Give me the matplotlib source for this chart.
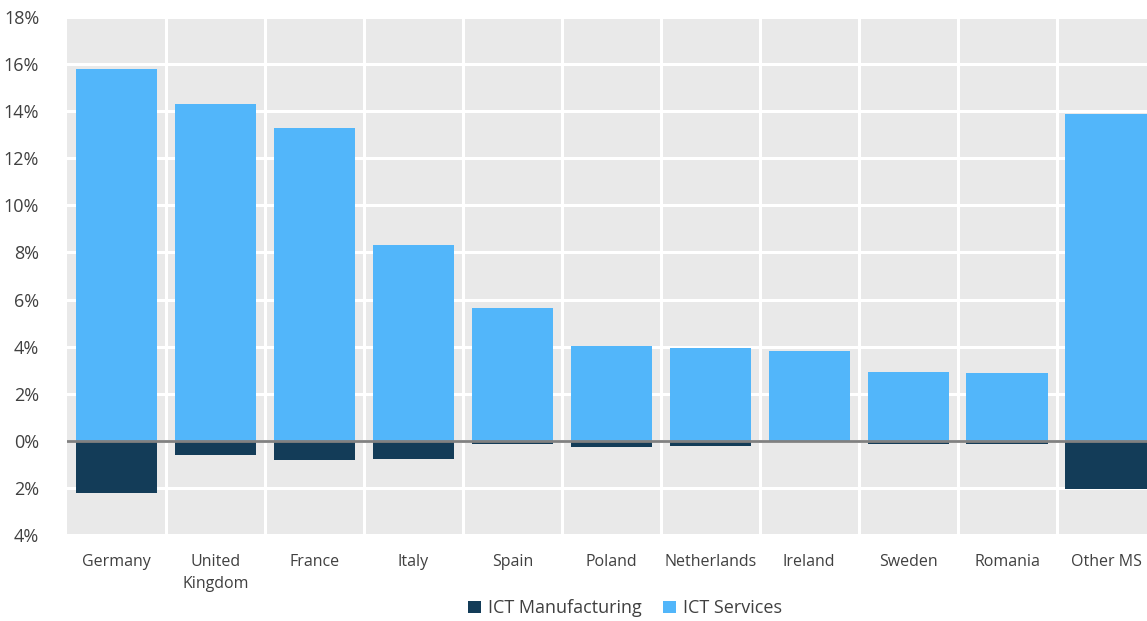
import numpy as np
import matplotlib
matplotlib.use("Agg")
import matplotlib.pyplot as plt
from matplotlib.ticker import FuncFormatter

plt.rcParams['font.family'] = ['Open Sans', 'DejaVu Sans']

# data
countries = ['Germany', 'United\nKingdom', 'France', 'Italy', 'Spain', 'Poland',
             'Netherlands', 'Ireland', 'Sweden', 'Romania', 'Other MS']
ict_services = [15.8, 14.3, 13.3, 8.3, 5.65, 4.03, 3.95, 3.82, 2.93, 2.89, 13.9]
ict_manufacturing = [-2.2, -0.6, -0.8, -0.78, -0.12, -0.25, -0.2, -0.02, -0.15, -0.15, -2.05]

c_serv = '#52B6FA'
c_manu = '#133C58'
txt = '#404040'

fig = plt.figure(figsize=(11.47, 6.21), dpi=100)
ax = fig.add_axes([0.0584, 0.1385, 0.949, 0.8341])
ax.set_facecolor('#E9E9E9')

x = np.arange(len(countries))
ax.bar(x, ict_manufacturing, width=0.82, color=c_manu, label='ICT Manufacturing', zorder=3)
ax.bar(x, ict_services, width=0.82, color=c_serv, label='ICT Services', zorder=3)

ax.axhline(0, color='#808080', lw=2, zorder=4)

ax.set_xlim(-0.5, len(countries) - 0.5)
ax.set_ylim(-4, 18)
ax.set_yticks(np.arange(-4, 19, 2))
ax.yaxis.set_major_formatter(FuncFormatter(lambda v, p: '%d%%' % abs(round(v))))
ax.set_xticks(x)
ax.set_xticklabels(countries, linespacing=1.5)
ax.set_xticks(np.arange(0.5, len(countries) - 1, 1), minor=True)

ax.grid(axis='y', which='major', color='white', lw=2.2, zorder=1)
ax.grid(axis='x', which='minor', color='white', lw=2.2, zorder=1)
ax.set_axisbelow(True)

for s in ax.spines.values():
    s.set_visible(False)
ax.tick_params(axis='both', which='both', length=0)
ax.tick_params(axis='y', labelsize=13, colors=txt, pad=20)
ax.tick_params(axis='x', labelsize=11.5, colors=txt, pad=14)

fig.legend(loc='lower center', bbox_to_anchor=(0.545, -0.02), ncol=2, frameon=False,
           fontsize=13, handlelength=0.7, handleheight=0.7, handletextpad=0.4,
           columnspacing=1.2, labelcolor=txt)

fig.savefig('out.png', dpi=100)
